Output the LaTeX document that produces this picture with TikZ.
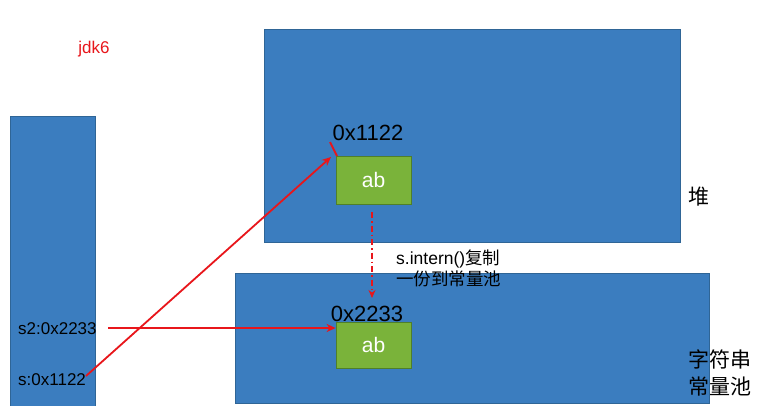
\documentclass[tikz,border=0pt]{standalone}
\usepackage{fontspec}
\setmainfont{Liberation Sans}
\newfontfamily\cjk{Noto Sans CJK SC}
\usetikzlibrary{arrows.meta}
\definecolor{bluebox}{HTML}{3B7DBF}
\definecolor{blueedge}{HTML}{2F6596}
\definecolor{greenbox}{HTML}{7AB33A}
\definecolor{greenedge}{HTML}{4F7F2A}
\definecolor{redline}{HTML}{E8161B}
\begin{document}
\begin{tikzpicture}[x=1pt,y=-1pt,
  region/.style={draw=blueedge,fill=bluebox,line width=0.8pt},
  strbox/.style={draw=greenedge,fill=greenbox,line width=0.8pt,text=white,font=\fontsize{21}{24}\selectfont},
  addr/.style={text=black,font=\fontsize{22}{24}\selectfont},
  var/.style={text=black,font=\fontsize{17}{20}\selectfont,anchor=west,inner sep=0pt},
  lbl/.style={text=black,font=\cjk\fontsize{21}{26}\selectfont,align=left},
  ptr/.style={draw=redline,line width=1.8pt,-{Stealth[length=9pt,width=8pt]}}
]
\useasboundingbox (0,0) rectangle (757,406);
\fill[white] (0,0) rectangle (757,406);
% regions
\draw[region] (10,116) rectangle (95,407);
\draw[region] (264,29) rectangle (680,242);
\draw[region] (235,273) rectangle (709,403);
% string boxes
\node[strbox,minimum width=75pt,minimum height=48pt,inner sep=0pt] (ab1) at (373.5,180) {ab};
\node[strbox,minimum width=75pt,minimum height=46pt,inner sep=0pt] (ab2) at (373.5,345) {ab};
% addresses
\node[addr] (a1) at (368,133) {0x1122};
\node[addr] (a2) at (367,314) {0x2233};
% labels
\node[text=redline,font=\fontsize{17}{20}\selectfont] (jdk) at (94,49) {jdk6};
\node[var] (s2) at (18,329) {s2:0x2233};
\node[var] (s1) at (18,380) {s:0x1122};
\node[lbl] (heap) at (699,197) {堆};
\node[lbl,font=\cjk\fontsize{21}{27}\selectfont] (pool) at (720,373) {字符串\\常量池};
\node[text=black,font=\fontsize{17.5}{21}\selectfont,align=left,anchor=north west,inner sep=0pt] (note) at (396,250) {s.intern()\cjk 复制\\\cjk 一份到常量池};
% connectors
\coordinate (s2end) at (108,328);
\coordinate (s1end) at (86,376);
\coordinate (tip1) at (331,157);
\coordinate (lk1) at (330,142);
\coordinate (lk2) at (337,156);
\draw[ptr] (s2end) -- (s2end -| ab2.west);
\draw[ptr] (s1end) -- (tip1);
\draw[draw=redline,line width=1.8pt] (lk1) -- (lk2);
\coordinate (dstart) at (372,212);
\coordinate (dend) at (372,298);
\draw[draw=redline,line width=1.8pt,dash pattern=on 6pt off 3pt on 1.5pt off 3pt,-{Stealth[length=8pt,width=7pt]}] (dstart) -- (dend);
\end{tikzpicture}
\end{document}
